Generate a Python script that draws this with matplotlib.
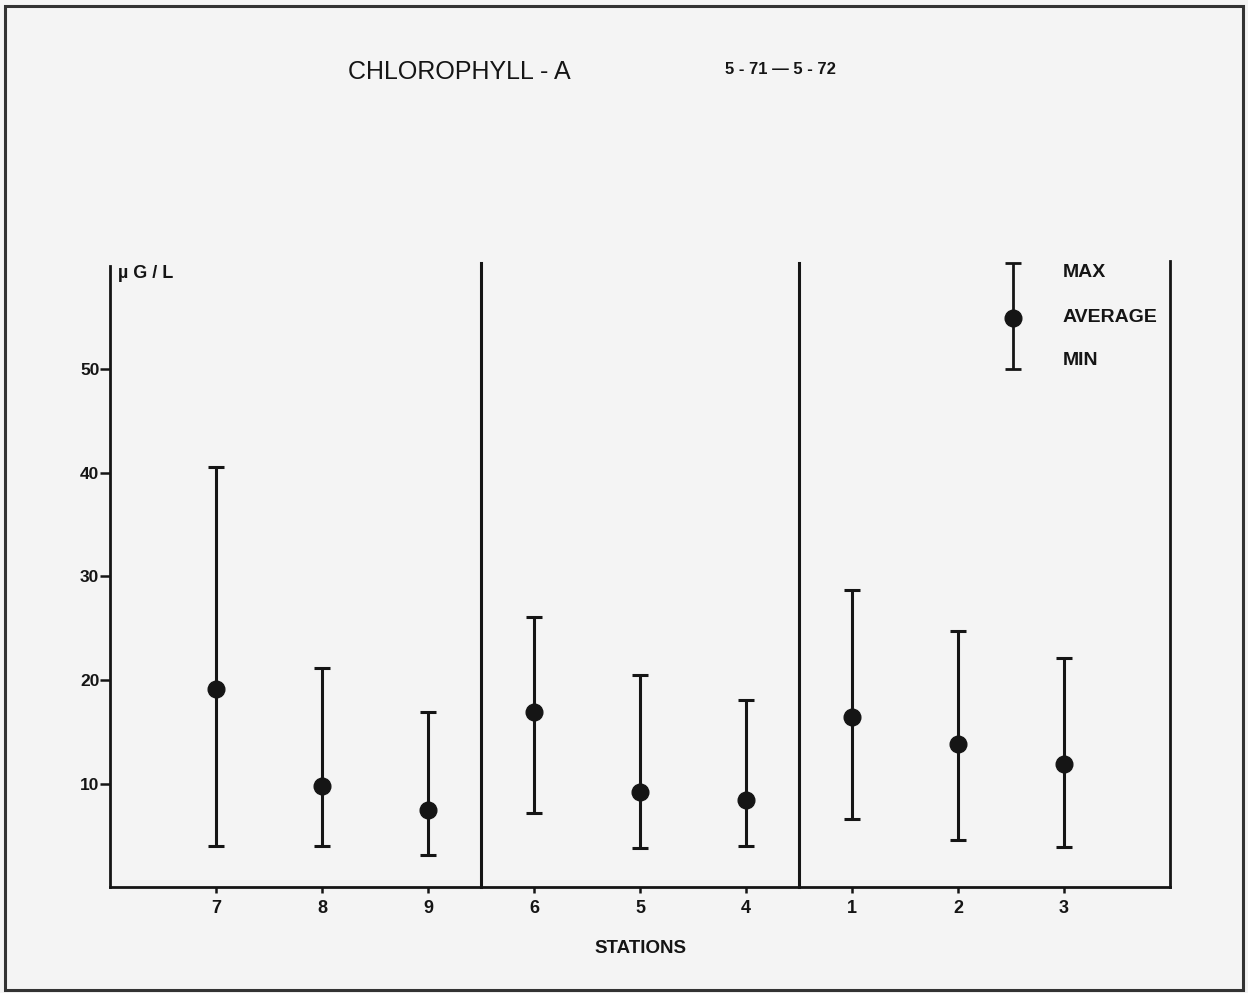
import matplotlib
matplotlib.use("Agg")
import matplotlib.pyplot as plt
from matplotlib.patches import Rectangle

plt.rcParams['font.family'] = ['Liberation Sans', 'DejaVu Sans']

# Stations in plotting order, grouped in three sections
stations = ["7", "8", "9", "6", "5", "4", "1", "2", "3"]
chl_max = [40.6, 21.2, 16.9, 26.1, 20.5, 18.1, 28.7, 24.7, 22.1]
chl_avg = [19.1, 9.8, 7.4, 16.9, 9.2, 8.4, 16.4, 13.8, 11.9]
chl_min = [4.0, 4.0, 3.1, 7.2, 3.8, 4.0, 6.6, 4.5, 3.9]
y_ticks = [10, 20, 30, 40, 50]
section_breaks = [3.5, 6.5]

bg = "#f4f4f4"
ink = "#151515"

fig = plt.figure(figsize=(12.48, 9.93), dpi=100, facecolor=bg)
ax = fig.add_axes([0.0885, 0.1067, 0.849, 0.6256], facecolor=bg)

# outer frame of the sheet
fig.patches.append(Rectangle((5 / 1248, 1 - 990 / 993), 1238 / 1248, 984 / 993,
                             transform=fig.transFigure, fill=False,
                             edgecolor="#333333", linewidth=2.2))

xpos = list(range(1, len(stations) + 1))
lower = [a - m for a, m in zip(chl_avg, chl_min)]
upper = [m - a for a, m in zip(chl_avg, chl_max)]
ax.errorbar(xpos, chl_avg, yerr=[lower, upper], fmt="o", color=ink,
            markersize=12, elinewidth=2.2, capsize=6, capthick=2.2)

for xb in section_breaks:
    ax.plot([xb, xb], [0, 60.3], color=ink, linewidth=2.2, clip_on=False)

ax.set_xlim(0, 10)
ax.set_ylim(0, 60)
ax.spines["top"].set_visible(False)
for s in ["left", "right", "bottom"]:
    ax.spines[s].set_linewidth(2.0)
    ax.spines[s].set_color(ink)
ax.spines["right"].set_bounds(0, 60.5)

ax.set_xticks(xpos)
ax.set_xticklabels(stations, fontsize=13, fontweight="bold", color=ink)
ax.set_yticks(y_ticks)
ax.set_yticklabels([str(v) for v in y_ticks], fontsize=12.5, fontweight="bold", color=ink)
ax.tick_params(axis="y", length=7, width=1.8, pad=1, colors=ink)
ax.tick_params(axis="x", length=4, width=1.8, pad=5, colors=ink)

ax.text(0.07, 59.3, "\u00b5 G / L", fontsize=13, fontweight="bold", color=ink,
        va="center", ha="left")
ax.set_xlabel("STATIONS", fontsize=13.5, fontweight="bold", color=ink,
              labelpad=17)

# key showing how max / average / min are drawn
ax.errorbar([8.52], [55.0], yerr=[[5.0], [5.3]], fmt="o", color=ink,
            markersize=12, elinewidth=2.0, capsize=6, capthick=2.0, clip_on=False)
for yv, label in [(59.4, "MAX"), (55.0, "AVERAGE"), (50.9, "MIN")]:
    ax.text(8.99, yv, label, fontsize=14, fontweight="bold", color=ink,
            va="center", ha="left")

fig.text(0.2785, 0.927, "CHLOROPHYLL - A", fontsize=18, color=ink,
         va="center", ha="left")
fig.text(0.581, 0.930, "5 - 71 \u2014 5 - 72", fontsize=12, fontweight="bold",
         color=ink, va="center", ha="left")

fig.savefig("out.png", dpi=100, facecolor=bg)
